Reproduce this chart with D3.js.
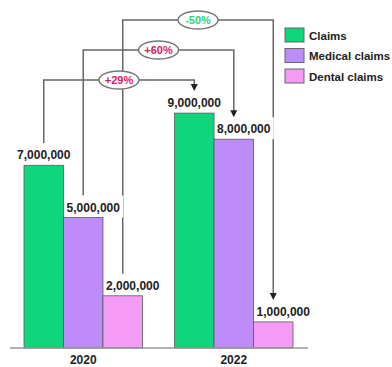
<!DOCTYPE html>
<html>
<head>
<meta charset="utf-8">
<script src="https://cdn.jsdelivr.net/npm/d3@7"></script>
<style>
  html, body { margin: 0; padding: 0; background: #fff; }
  svg { display: block; }
  text { font-family: "Liberation Sans", Arial, sans-serif; font-weight: bold; }
</style>
</head>
<body>
<svg id="chart" width="392" height="367"></svg>
<script>
// Claim counts per year and claim type
const years = ["2020", "2022"];
const series = ["Claims", "Medical claims", "Dental claims"];
const values2020 = [7000000, 5000000, 2000000];
const values2022 = [9000000, 8000000, 1000000];
const colors = ["#0fd67a", "#bd8cf9", "#f49cf5"];

const svg = d3.select("#chart");

const x0 = d3.scaleBand().domain(years).range([24, 293]).paddingInner(0.213);
const x1 = d3.scaleBand().domain(series).range([0, x0.bandwidth()]);
const y = d3.scaleLinear().domain([0, 10000000]).range([348, 87]);

const valuesByYear = { "2020": values2020, "2022": values2022 };
const bars = [];
years.forEach(yr => series.forEach((s, i) => bars.push({ year: yr, series: s, i, value: valuesByYear[yr][i] })));

const fmt = d3.format(",");
const labelShift = [0, 10, 10];      // value labels for the narrower bars sit slightly right
const connectorLevel = [80, 50, 20]; // height of each change connector
const cx = d => x0(d.year) + x1(d.series) + x1.bandwidth() / 2;
const boxTop = d => y(d.value) - 22;

// Change connectors from 2020 to 2022
const lineColor = "#666";
const gConn = svg.append("g");
series.forEach((s, i) => {
  const a = bars.find(b => b.year === "2020" && b.i === i);
  const b = bars.find(b => b.year === "2022" && b.i === i);
  const xa = cx(a), xb = cx(b), lv = connectorLevel[i];
  const tip = boxTop(b);
  gConn.append("path")
    .attr("d", `M${xa},${boxTop(a)}V${lv}H${xb}V${tip - 6}`)
    .attr("fill", "none").attr("stroke", lineColor).attr("stroke-width", 1.5);
  gConn.append("path")
    .attr("d", `M${xb - 3.5},${tip - 7}L${xb + 3.5},${tip - 7}L${xb},${tip}Z`)
    .attr("fill", "#222");
});

// White plates behind the value labels
svg.append("g").selectAll("rect").data(bars).join("rect")
  .attr("x", d => cx(d) + labelShift[d.i] - 29)
  .attr("width", 59)
  .attr("y", d => boxTop(d))
  .attr("height", 22)
  .attr("fill", "#fff");

// Bars
svg.append("g").selectAll("rect").data(bars).join("rect")
  .attr("x", d => x0(d.year) + x1(d.series))
  .attr("width", x1.bandwidth())
  .attr("y", d => y(d.value))
  .attr("height", d => y(0) - y(d.value))
  .attr("fill", d => colors[d.i])
  .attr("stroke", "#5a5a5a").attr("stroke-width", 0.8);

// Baseline
svg.append("line")
  .attr("x1", 10).attr("x2", 308).attr("y1", y(0)).attr("y2", y(0))
  .attr("stroke", "#999").attr("stroke-width", 1.5);

// Value labels
svg.append("g").selectAll("text").data(bars).join("text")
  .attr("x", d => cx(d) + labelShift[d.i])
  .attr("y", d => y(d.value) - 6)
  .attr("text-anchor", "middle")
  .attr("font-size", 12)
  .attr("fill", "#222")
  .text(d => fmt(d.value));

// Year labels
svg.append("g").selectAll("text").data(years).join("text")
  .attr("x", d => x0(d) + x0.bandwidth() / 2)
  .attr("y", 364)
  .attr("text-anchor", "middle")
  .attr("font-size", 12)
  .attr("fill", "#222")
  .text(d => d);

// Percentage change badges at the middle of each connector
series.forEach((s, i) => {
  const a = bars.find(b => b.year === "2020" && b.i === i);
  const b = bars.find(b => b.year === "2022" && b.i === i);
  const mx = (cx(a) + cx(b)) / 2, my = connectorLevel[i];
  const change = (b.value - a.value) / a.value;
  const txt = (change > 0 ? "+" : "") + Math.round(change * 100) + "%";
  svg.append("ellipse")
    .attr("cx", mx).attr("cy", my).attr("rx", 20).attr("ry", 9)
    .attr("fill", "#fff").attr("stroke", "#777").attr("stroke-width", 1.5);
  svg.append("text")
    .attr("x", mx).attr("y", my + 4)
    .attr("text-anchor", "middle")
    .attr("font-size", 11)
    .attr("fill", change > 0 ? "#e0185a" : "#2fd47c")
    .text(txt);
});

// Legend
const legend = svg.append("g").attr("transform", "translate(285,28)");
series.forEach((s, i) => {
  const g = legend.append("g").attr("transform", `translate(0,${i * 20.5})`);
  g.append("rect").attr("width", 19).attr("height", 14)
    .attr("fill", colors[i]).attr("stroke", "#666").attr("stroke-width", 1);
  g.append("text").attr("x", 24).attr("y", 11.5)
    .attr("font-size", 11.5).attr("fill", "#222").text(s);
});
</script>
</body>
</html>
